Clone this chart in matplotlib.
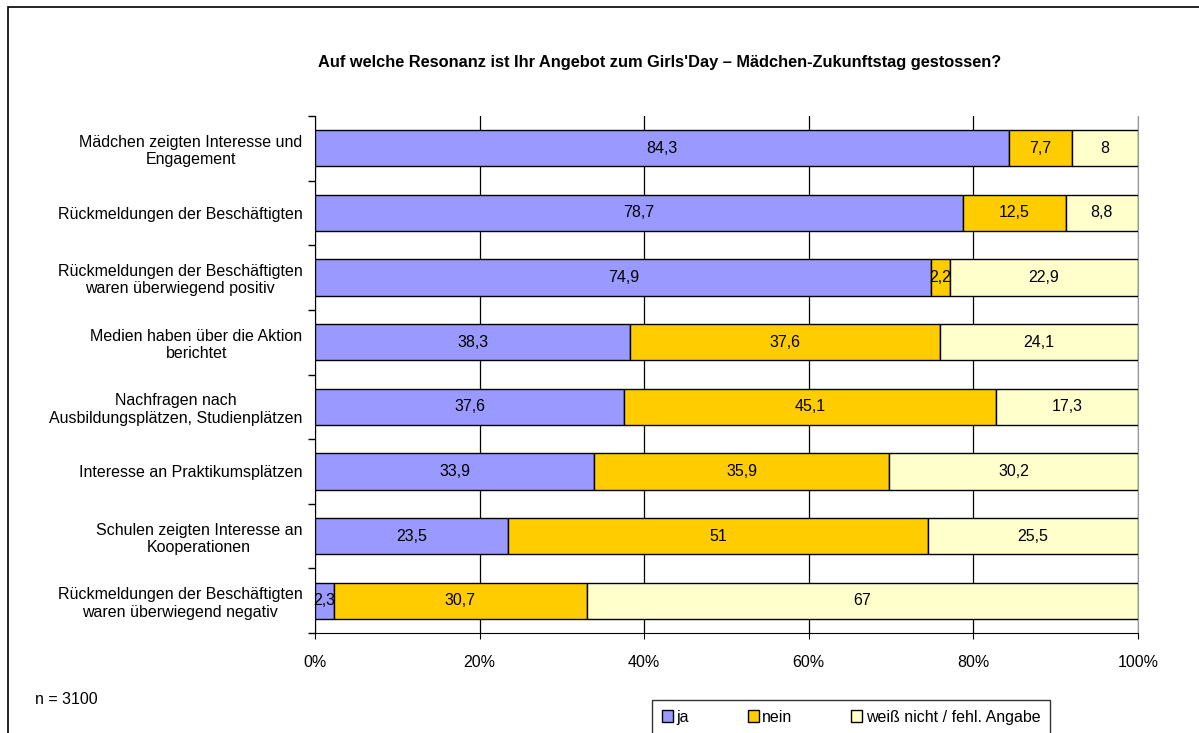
import matplotlib
matplotlib.use("Agg")
import matplotlib.pyplot as plt
from matplotlib.patches import Rectangle
import numpy as np

plt.rcParams["font.family"] = ["Liberation Sans", "DejaVu Sans"]

TITLE = "Auf welche Resonanz ist Ihr Angebot zum Girls'Day \u2013 M\u00e4dchen-Zukunftstag gestossen?"
categories = [
    "M\u00e4dchen zeigten Interesse und\nEngagement",
    "R\u00fcckmeldungen der Besch\u00e4ftigten",
    "R\u00fcckmeldungen der Besch\u00e4ftigten\nwaren \u00fcberwiegend positiv",
    "Medien haben \u00fcber die Aktion\nberichtet",
    "Nachfragen nach\nAusbildungspl\u00e4tzen, Studienpl\u00e4tzen",
    "Interesse an Praktikumspl\u00e4tzen",
    "Schulen zeigten Interesse an\nKooperationen",
    "R\u00fcckmeldungen der Besch\u00e4ftigten\nwaren \u00fcberwiegend negativ",
]
ja = [84.3, 78.7, 74.9, 38.3, 37.6, 33.9, 23.5, 2.3]
nein = [7.7, 12.5, 2.2, 37.6, 45.1, 35.9, 51, 30.7]
weiss = [8, 8.8, 22.9, 24.1, 17.3, 30.2, 25.5, 67]
series_names = ["ja", "nein", "wei\u00df nicht / fehl. Angabe"]
COLORS = ["#9999FF", "#FFCC00", "#FFFFCC"]
N_TEXT = "n = 3100"

FS = 11.5


def fmt(v):
    s = f"{v:.1f}".replace(".", ",")
    return s[:-2] if s.endswith(",0") else s


W, H = 1199, 733
fig = plt.figure(figsize=(W / 100, H / 100), dpi=100)
fig.patch.set_facecolor("white")
fig.patches.append(Rectangle((8 / W, -0.05), 1.2, 1 - 7 / H + 0.05, transform=fig.transFigure,
                             fill=False, edgecolor="black", lw=1.2))

ax = fig.add_axes([315 / W, 1 - 633 / H, (1138 - 315) / W, (633 - 116) / H])
y = np.arange(len(categories))
left = np.zeros(len(categories))
for vals, col, name in zip([ja, nein, weiss], COLORS, series_names):
    vals = np.array(vals, dtype=float)
    ax.barh(y, vals, left=left, height=0.56, color=col, edgecolor="black", lw=1.0,
            label=name, zorder=3)
    for yi, l, v in zip(y, left, vals):
        ax.text(l + v / 2, yi, fmt(v), ha="center", va="center", fontsize=FS, zorder=4)
    left += vals

ax.set_xlim(0, 100)
ax.set_ylim(len(categories) - 0.5, -0.5)
ax.set_xticks([0, 20, 40, 60, 80, 100])
ax.set_xticklabels([f"{t}%" for t in [0, 20, 40, 60, 80, 100]], fontsize=FS)
ax.tick_params(axis="x", length=4, pad=12)
ax.set_yticks(y)
ax.set_yticklabels(categories, fontsize=FS, ha="right", multialignment="center")
ax.tick_params(axis="y", length=0, pad=9)
ax.set_yticks(np.arange(len(categories) + 1) - 0.5, minor=True)
ax.tick_params(axis="y", which="minor", length=5, width=1)
ax.grid(axis="x", color="black", lw=0.9, zorder=0)
ax.spines["top"].set_visible(False)
ax.spines["right"].set_color("#999999")
ax.spines["left"].set_color("black")
ax.spines["bottom"].set_color("black")
ax.set_axisbelow(True)

fig.text(660 / W, 1 - 62 / H, TITLE, ha="center", va="center", fontsize=11.8, fontweight="bold")
fig.text(35 / W, 1 - 699 / H, N_TEXT, ha="left", va="center", fontsize=FS)

leg = fig.legend(loc="upper left", bbox_to_anchor=(652 / W, 1 - 700 / H), ncol=3,
                 fontsize=FS, frameon=True, fancybox=False, edgecolor="black",
                 handlelength=0.7, handleheight=0.7, handletextpad=0.2, columnspacing=3.7,
                 borderpad=0.6, borderaxespad=0)
leg.get_frame().set_linewidth(1.0)

fig.savefig("out.png", dpi=100)
